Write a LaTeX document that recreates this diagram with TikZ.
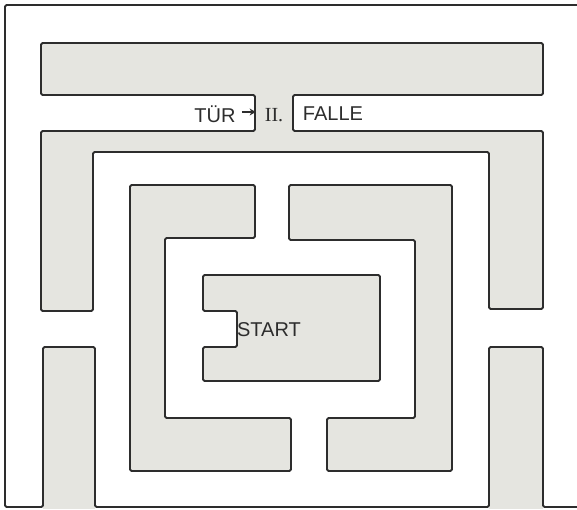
\documentclass[tikz,border=0pt]{standalone}
\usepackage{fontspec}
\setmainfont{Liberation Sans}
\newfontfamily\romanfont{Liberation Serif}
\usepackage{tikz}
\usetikzlibrary{arrows,arrows.meta}
\definecolor{wallgray}{RGB}{229,229,224}
\definecolor{inkgray}{RGB}{45,45,45}

\begin{document}
\begin{tikzpicture}[x=1pt, y=-1pt,
  wall/.style={fill=wallgray, draw=inkgray, line width=1.8pt, rounded corners=1.5pt, line join=round},
  rim/.style={draw=inkgray, line width=1.8pt, rounded corners=1.5pt, line join=round},
  mazetext/.style={text=inkgray, inner sep=0pt, font=\fontsize{20}{20}\selectfont}]
%
\useasboundingbox[fill=white] (0,0) rectangle (577,509);
% Block oben, Tuer und aeusserer Bogen
\draw[wall] (41,43) -- (543,43) -- (543,95) -- (293,95) -- (293,131) -- (543,131)
  -- (543,309) -- (489,309) -- (489,152) -- (93,152) -- (93,311) -- (41,311)
  -- (41,131) -- (255,131) -- (255,95) -- (41,95) -- cycle;
% Innerer Bogen links
\draw[wall] (130,185) -- (255,185) -- (255,238) -- (165,238) -- (165,418)
  -- (291,418) -- (291,471) -- (130,471) -- cycle;
% Innerer Bogen rechts
\draw[wall] (289,185) -- (452,185) -- (452,471) -- (327,471) -- (327,418)
  -- (415,418) -- (415,240) -- (289,240) -- cycle;
% Start
\draw[wall] (203,275) -- (380,275) -- (380,381) -- (203,381) -- (203,347)
  -- (237,347) -- (237,311) -- (203,311) -- cycle;
% Bloecke unten
\fill[wallgray] (43,347) rectangle (95,509);
\fill[wallgray] (489,347) rectangle (543,509);
% Rahmen
\draw[rim] (577,5) -- (5,5) -- (5,507) -- (43,507) -- (43,347) -- (95,347) -- (95,507)
  -- (489,507) -- (489,347) -- (543,347) -- (543,507) -- (577,507);
% Texte
\node[mazetext] (tuer) at (215,114) {TÜR};
\node[mazetext, font=\romanfont\fontsize{20}{20}\selectfont] (zwei) at (274,115) {II.};
\node[mazetext] (falle) at (333,114) {FALLE};
\node[mazetext] (start) at (269,330) {START};
%
\draw[color=inkgray, line width=1.6pt, -{Stealth[length=6pt,width=7pt]}] ([xshift=6pt,yshift=2pt]tuer.east) -- ([xshift=-9pt,yshift=3pt]zwei.west);
\end{tikzpicture}
\end{document}
